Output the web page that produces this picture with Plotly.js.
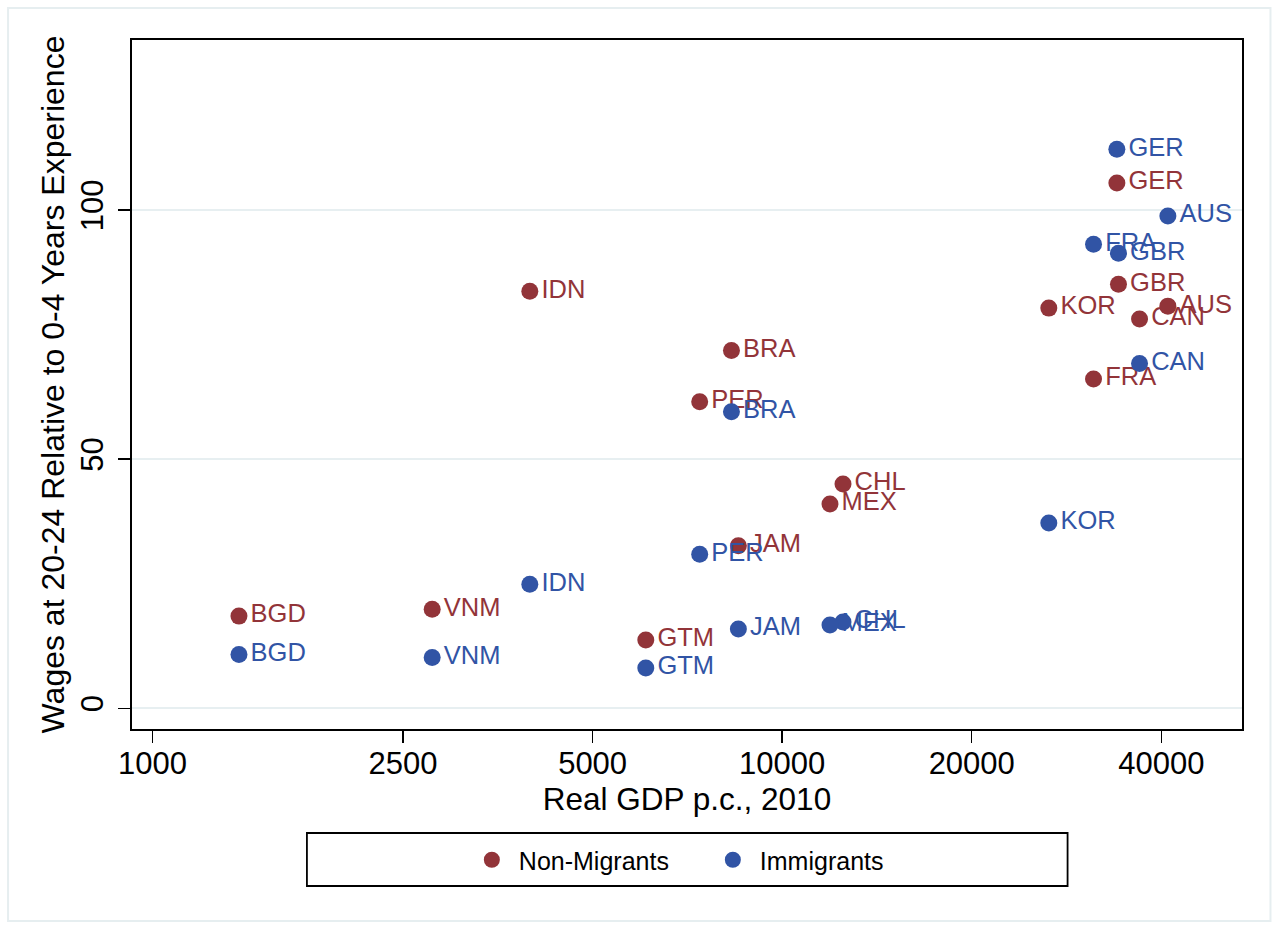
<!DOCTYPE html>
<html>
<head>
<meta charset="utf-8">
<script src="https://cdn.plot.ly/plotly-3.0.1.min.js"></script>
<style>
  html, body { margin: 0; padding: 0; background: #ffffff; }
  #chart { width: 1276px; height: 927px; }
</style>
</head>
<body>
<div id="chart"></div>
<script>
// Country codes
const countries = ["GER","AUS","FRA","GBR","KOR","CAN","IDN","BRA","PER","CHL","MEX","JAM","GTM","VNM","BGD"];
// Real GDP per capita, 2010
const gdp = [34000, 40970, 31220, 34200, 26510, 36940, 3974, 8307, 7396, 12490, 11910, 8520, 6073, 2781, 1372];
// Wage growth at 20-24 years of experience relative to 0-4 years
const nonMigrants = [105.4, 80.7, 66.1, 85.1, 80.3, 78.1, 83.7, 71.8, 61.5, 45.0, 41.0, 32.6, 13.7, 19.9, 18.5];
const immigrants  = [112.2, 98.8, 93.1, 91.3, 37.2, 69.2, 24.9, 59.5, 30.9, 17.3, 16.7, 15.9, 8.1, 10.2, 10.8];
const seriesNames = ["Non-Migrants", "Immigrants"];
const xTicks = [1000, 2500, 5000, 10000, 20000, 40000];
const yTicks = [0, 50, 100];

const RED = "#923439";
const BLUE = "#3154a5";
const FONT = "Liberation Sans, Arial, Helvetica, sans-serif";

function mkTrace(name, ys, color) {
  return {
    type: "scatter",
    mode: "markers+text",
    name: name,
    x: gdp,
    y: ys,
    text: countries,
    textposition: "middle right",
    textfont: { family: FONT, size: 25.5, color: color },
    marker: { color: color, size: 17, line: { width: 0 } },
    cliponaxis: false,
    hoverinfo: "x+y+text"
  };
}

const data = [
  mkTrace(seriesNames[0], nonMigrants, RED),
  mkTrace(seriesNames[1], immigrants, BLUE)
];

// plot area in pixels: x 132..1242.5, y 40..729
const L = 132, R = 1242.5, T = 40, B = 729;
const px = p => (p - L) / (R - L);
const py = q => (B - q) / (B - T);

const layout = {
  width: 1276,
  height: 927,
  margin: { l: L, r: 1276 - R, t: T, b: 927 - B, pad: 0 },
  paper_bgcolor: "#ffffff",
  plot_bgcolor: "#ffffff",
  font: { family: FONT, color: "#000000" },
  showlegend: true,
  xaxis: {
    type: "log",
    range: [Math.log10(927.9), Math.log10(53728)],
    tickmode: "array",
    tickvals: xTicks,
    ticktext: xTicks.map(String),
    ticks: "outside",
    ticklen: 12,
    tickwidth: 1.5,
    tickcolor: "#000000",
    ticklabelstandoff: -6,
    tickfont: { family: FONT, size: 31, color: "#000000" },
    showgrid: false,
    zeroline: false,
    showline: true,
    linecolor: "#000000",
    linewidth: 2,
    mirror: true,
    title: { text: "Real GDP p.c., 2010", font: { family: FONT, size: 31.5, color: "#000000" }, standoff: 0 }
  },
  yaxis: {
    range: [-4.15, 134.1],
    tickmode: "array",
    tickvals: yTicks,
    ticktext: yTicks.map(String),
    tickangle: -90,
    ticks: "outside",
    ticklen: 12,
    tickwidth: 1.5,
    tickcolor: "#000000",
    ticklabelstandoff: 3,
    tickfont: { family: FONT, size: 31, color: "#000000" },
    showgrid: true,
    gridcolor: "#e7eff1",
    gridwidth: 2,
    zeroline: false,
    showline: true,
    linecolor: "#000000",
    linewidth: 2,
    mirror: true,
    title: { text: "Wages at 20-24 Relative to 0-4 Years Experience", font: { family: FONT, size: 32, color: "#000000" }, standoff: 0 }
  },
  legend: {
    orientation: "h",
    x: px(465),
    xanchor: "left",
    y: py(860),
    yanchor: "middle",
    bgcolor: "rgba(0,0,0,0)",
    borderwidth: 0,
    font: { family: FONT, size: 25, color: "#000000" },
    itemwidth: 44,
    entrywidth: 182,
    entrywidthmode: "pixels"
  },
  shapes: [
    {
      type: "rect", xref: "paper", yref: "paper",
      x0: px(307), x1: px(1068), y0: py(833), y1: py(886),
      line: { color: "#000000", width: 1.8 }, fillcolor: "rgba(0,0,0,0)", layer: "above"
    },
    {
      type: "rect", xref: "paper", yref: "paper",
      x0: px(8), x1: px(1271), y0: py(8), y1: py(921),
      line: { color: "#e6eef0", width: 2 }, fillcolor: "rgba(0,0,0,0)", layer: "below"
    }
  ]
};

Plotly.newPlot("chart", data, layout, { displayModeBar: false, staticPlot: true });
</script>
</body>
</html>
